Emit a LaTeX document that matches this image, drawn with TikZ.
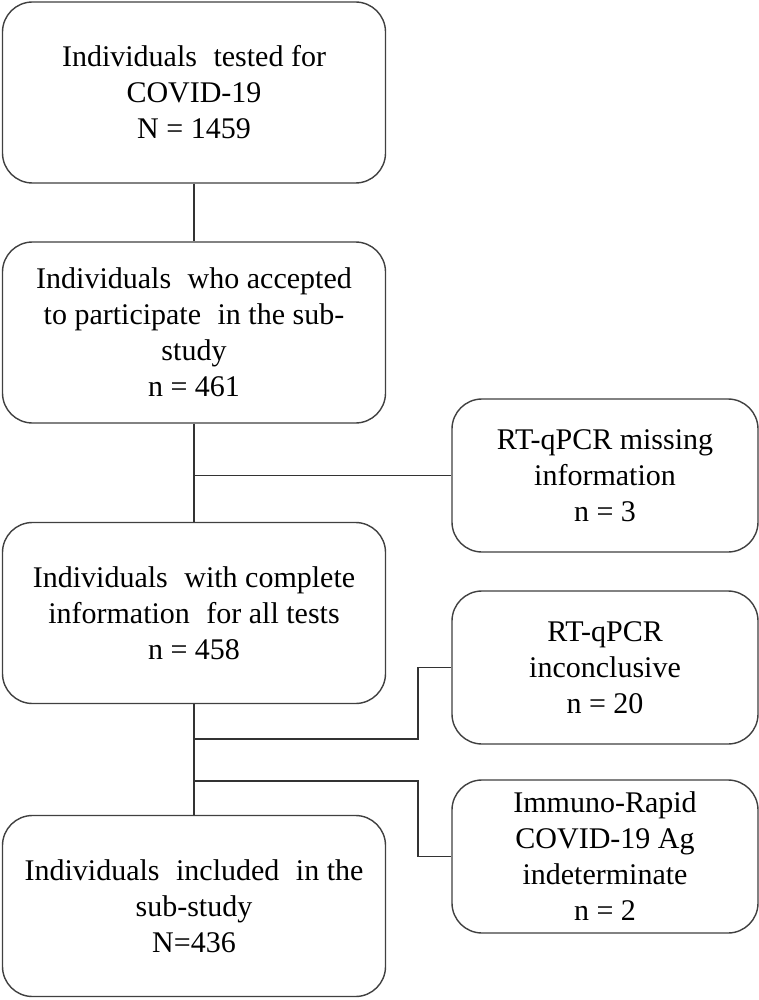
\documentclass[tikz,border=0pt]{standalone}
\usepackage{fontspec}
\setmainfont{Liberation Serif}
\newcommand{\wsp}{\hspace{0.3em}}
\begin{document}
\begin{tikzpicture}[x=1pt,y=-1pt,
  box/.style={draw=black!75,line width=1.4pt,rounded corners=30pt,align=center,
    font=\fontsize{30}{36}\selectfont,inner sep=0pt},
  mainbox/.style={box,minimum width=383pt,minimum height=181pt},
  sidebox/.style={box,minimum width=306pt,minimum height=153pt},
  conn/.style={draw=black!80,line width=1.3pt}]
\useasboundingbox (0,0) rectangle (759,1000);
\fill[white] (0,0) rectangle (759,1000);
\node[mainbox] (b1) at (194,92.5) {Individuals\wsp{} tested for\\COVID-19\\N = 1459};
\node[mainbox] (b2) at (194,332.5) {Individuals\wsp{} who accepted\\to participate\wsp{} in the sub-\\study\\n = 461};
\node[mainbox] (b3) at (194,613) {Individuals\wsp{} with complete\\information\wsp{} for all tests\\n = 458};
\node[mainbox] (b4) at (194,906) {Individuals\wsp{} included\wsp{} in the\\sub-study\\N=436};
\node[sidebox] (r1) at (605,475.5) {RT-qPCR missing\\information\\n = 3};
\node[sidebox] (r2) at (605,667.5) {RT-qPCR\\inconclusive\\n = 20};
\node[sidebox] (r3) at (605,856.5) {Immuno-Rapid\\COVID-19 Ag\\indeterminate\\n = 2};
\coordinate (j1) at (194,475.5);
\coordinate (j2) at (194,739);
\coordinate (k2) at (418,739);
\coordinate (j3) at (194,781);
\coordinate (k3) at (418,781);
\draw[conn] (b1.south) -- (b2.north);
\draw[conn] (b2.south) -- (b3.north);
\draw[conn] (j1) -- (r1.west);
\draw[conn] (b3.south) -- (b4.north);
\draw[conn] (j2) -- (k2) |- (r2.west);
\draw[conn] (j3) -- (k3) |- (r3.west);
\end{tikzpicture}
\end{document}
